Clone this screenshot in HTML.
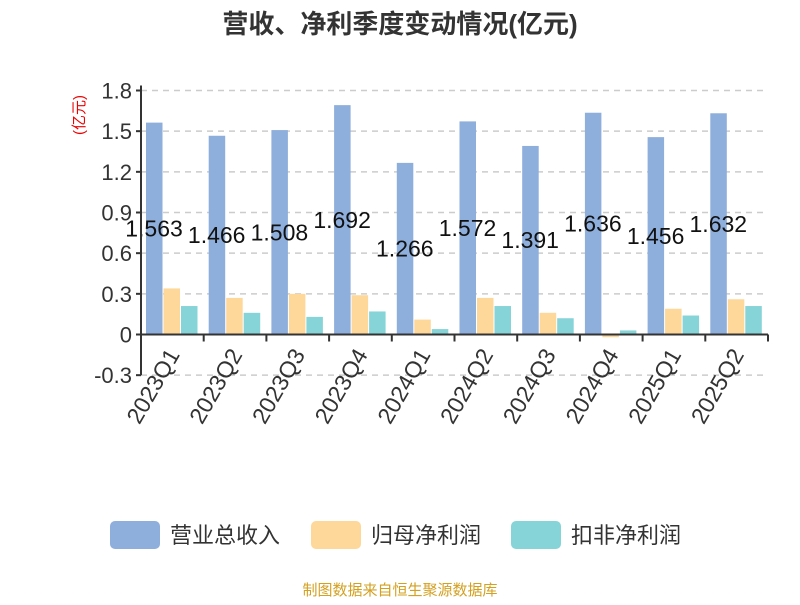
<!DOCTYPE html>
<html><head><meta charset="utf-8"><style>
body{margin:0;background:#fff;font-family:"Liberation Sans","Noto Sans CJK SC",sans-serif}
</style></head><body>
<svg id="c" width="800" height="600" font-family="Liberation Sans, Noto Sans CJK SC, sans-serif">
<text x="400" y="33" text-anchor="middle" font-size="26" font-weight="bold" fill="#333">营收、净利季度变动情况(亿元)</text>
<text transform="translate(84,115) rotate(-90)" text-anchor="middle" font-size="15" fill="#e00">(亿元)</text>
<g id="plot"></g>
<g>
<rect x="110" y="521" width="50" height="28" rx="5" fill="#8eaedc"/>
<text x="170" y="543" font-size="22" fill="#333">营业总收入</text>
<rect x="311" y="521" width="50" height="28" rx="5" fill="#fdd89a"/>
<text x="371" y="543" font-size="22" fill="#333">归母净利润</text>
<rect x="511" y="521" width="50" height="28" rx="5" fill="#86d4d8"/>
<text x="571" y="543" font-size="22" fill="#333">扣非净利润</text>
</g>
<text x="400" y="595" text-anchor="middle" font-size="15" fill="#d4a020">制图数据来自恒生聚源数据库</text>
</svg>
<script>
const categories=["2023Q1","2023Q2","2023Q3","2023Q4","2024Q1","2024Q2","2024Q3","2024Q4","2025Q1","2025Q2"];
const revenue=[1.563,1.466,1.508,1.692,1.266,1.572,1.391,1.636,1.456,1.632];
const netProfit=[0.34,0.27,0.30,0.29,0.11,0.27,0.16,-0.02,0.19,0.26];
const deducted=[0.21,0.16,0.13,0.17,0.04,0.21,0.12,0.03,0.14,0.21];
const yTicks=[-0.3,0,0.3,0.6,0.9,1.2,1.5,1.8];
const yTickLabels=["-0.3","0","0.3","0.6","0.9","1.2","1.5","1.8"];
const NS="http://www.w3.org/2000/svg";
const g=document.getElementById('plot');
const x0=141,x1=768,yTop=90.5,yBot=334.5;
function y(v){return yBot-(v/1.8)*(yBot-yTop);}
const band=(x1-x0)/categories.length;
function mk(t,a,p){const e=document.createElementNS(NS,t);for(const k in a)e.setAttribute(k,a[k]);(p||g).appendChild(e);return e;}
yTicks.forEach((v,i)=>{
 if(v!==0){const l=mk('line',{x1:x0,x2:x1,y1:y(v),y2:y(v),stroke:'#ccc','stroke-width':1.5,'stroke-dasharray':'6,5'});
 
 }
 const tk=mk('line',{x1:x0-5,x2:x0,y1:y(v),y2:y(v),stroke:'#333','stroke-width':2});
 
 
 const t=mk('text',{x:x0-9,y:y(v)+8,'text-anchor':'end','font-size':22,fill:'#333'});
 t.textContent=yTickLabels[i];
 
 
});
const series=[[revenue,'#8eaedc','bar-revenue'],[netProfit,'#fdd89a','bar-netprofit'],[deducted,'#86d4d8','bar-deducted']];
categories.forEach((c,i)=>{
 const bx=x0+i*band+5;
 series.forEach((s,j)=>{
  const v=s[0][i];const top=Math.min(y(v),y(0)),h=Math.abs(y(v)-y(0));
  const r=mk('rect',{x:bx+j*17.5,y:top,width:16.5,height:h,fill:s[1]});
  
  
 });
 const lt=mk('text',{x:bx+8,y:(y(revenue[i])+y(0))/2+8,'text-anchor':'middle','font-size':23,fill:'#111'});
 lt.textContent=revenue[i].toFixed(3);
 
 
 const tk=mk('line',{x1:x0+(i+1)*band,x2:x0+(i+1)*band,y1:y(0),y2:y(0)+7,stroke:'#333','stroke-width':2});
 
 
 const cx=x0+(i+0.5)*band+8;
 const xl=mk('text',{x:0,y:0,'text-anchor':'end','font-size':23,fill:'#333',transform:`translate(${cx},${y(0)+20}) rotate(-60)`});
 xl.textContent=c;
 
 
});
const ax=mk('line',{x1:x0,x2:x1,y1:y(0),y2:y(0),stroke:'#333','stroke-width':2});


const ay=mk('line',{x1:x0,x2:x0,y1:yTop-5,y2:y(-0.3),stroke:'#333','stroke-width':2});


</script>
</body></html>
